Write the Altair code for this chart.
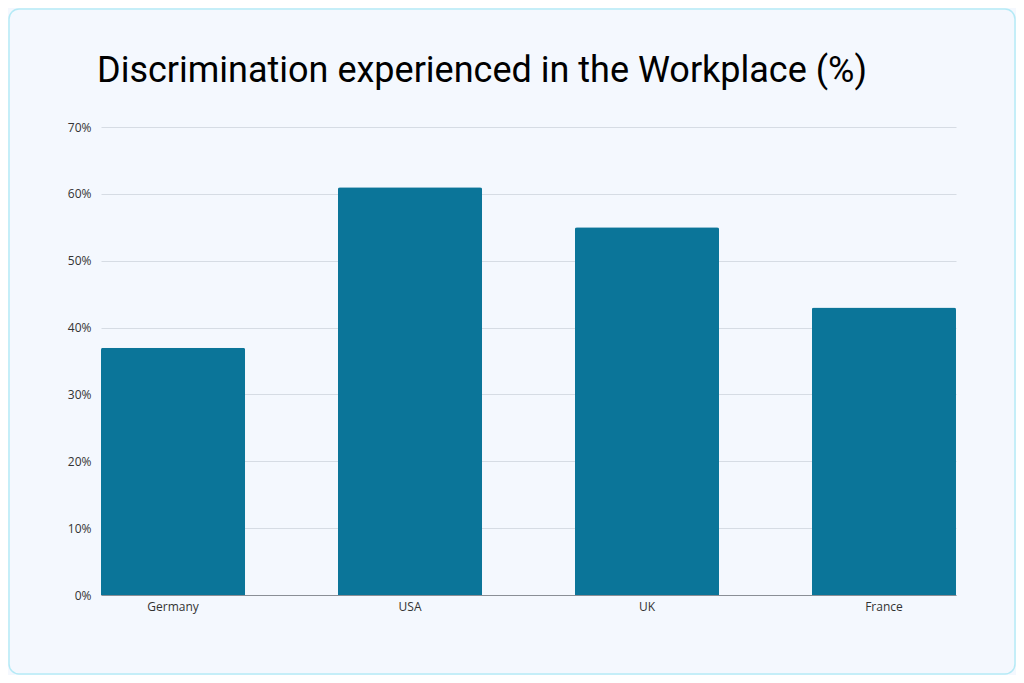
import altair as alt
import pandas as pd

countries = ["Germany", "USA", "UK", "France"]
values = [37, 61, 55, 43]
title_text = "Discrimination experienced in the Workplace (%)"

df = pd.DataFrame({"country": countries, "value": [v / 100 for v in values]})

W, H = 855, 468
PL, PT, PR, PB = 93, 119, 60, 80

frame = alt.Chart(pd.DataFrame({"a": [0]})).mark_rect(
    fill="transparent", stroke="#b5eaf6", strokeWidth=1.5, cornerRadius=10
).encode(
    x=alt.value(-PL + 1), x2=alt.value(W + PR - 1),
    y=alt.value(-PT + 1), y2=alt.value(H + PB - 1),
)

axis_common = dict(ticks=False, labelFontSize=12, labelColor="#333333",
                   labelFont="Open Sans")

bars = alt.Chart(df).mark_bar(
    color="#0b7599", cornerRadiusTopLeft=2, cornerRadiusTopRight=2
).encode(
    x=alt.X("country:N", sort=countries, title=None,
            scale=alt.Scale(paddingInner=0.392, paddingOuter=0),
            axis=alt.Axis(labelAngle=0, domain=True, domainColor="#8a8f96",
                          labelPadding=6, **axis_common)),
    y=alt.Y("value:Q", title=None,
            scale=alt.Scale(domain=[0, 0.7]),
            axis=alt.Axis(format=".0%", values=[0, .1, .2, .3, .4, .5, .6, .7],
                          domain=False, grid=True, gridColor="#d6dce4", labelPadding=10,
                          **axis_common)),
)

chart = alt.layer(frame, bars).properties(
    width=W, height=H,
    autosize=alt.AutoSizeParams(type="none"),
    padding={"left": PL, "top": PT, "right": PR, "bottom": PB},
    background="#f4f8fe",
    title=alt.TitleParams(
        title_text, anchor="start", frame="group", dx=-4, offset=-118,
        font="Roboto", fontSize=36, fontWeight="normal", color="#000000",
        baseline="bottom",
    ),
).configure_view(stroke=None)

chart.save("out.html", embed_options={"renderer": "svg", "actions": False})
